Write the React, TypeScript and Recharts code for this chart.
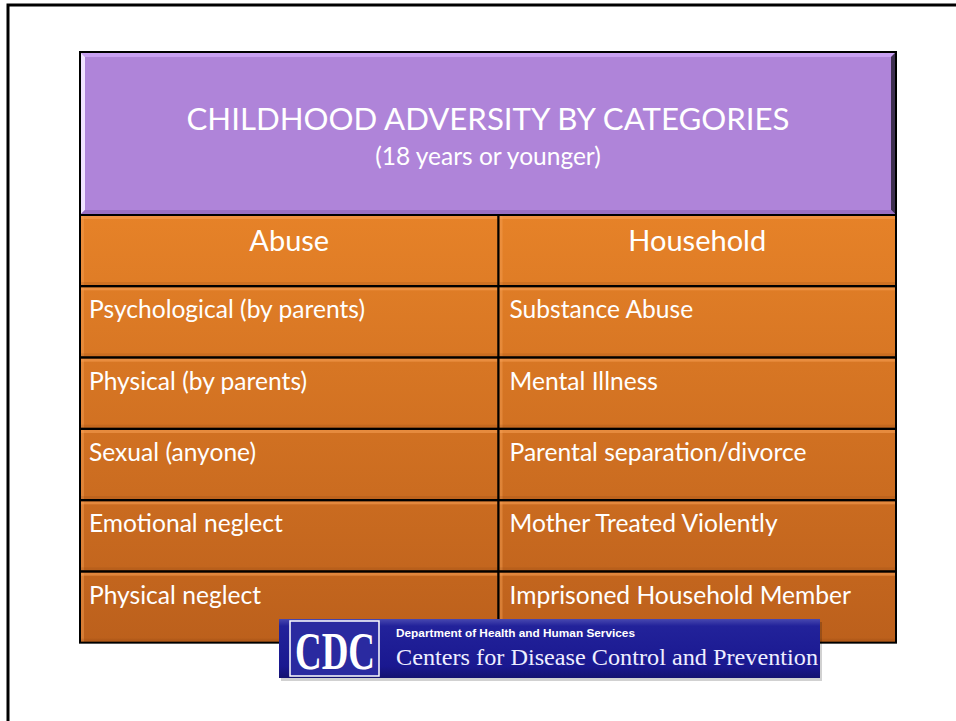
import React from "react";
import { BarChart, Bar, XAxis, YAxis } from "recharts";

const abuseItems = [
  "Abuse",
  "Psychological (by parents)",
  "Physical (by parents)",
  "Sexual (anyone)",
  "Emotional neglect",
  "Physical neglect",
];
const householdItems = [
  "Household",
  "Substance Abuse",
  "Mental Illness",
  "Parental separation/divorce",
  "Mother Treated Violently",
  "Imprisoned Household Member",
];
// share of the table width taken by each column
const columnWeights = [418, 397];
const titleText = "CHILDHOOD ADVERSITY BY CATEGORIES";
const subtitleText = "(18 years or younger)";
const logoSmall = "Department of Health and Human Services";
const logoLarge = "Centers for Disease Control and Prevention";

const data = abuseItems.map((a, i) => ({
  row: i,
  abuseLabel: a,
  householdLabel: householdItems[i],
  abuse: columnWeights[0],
  household: columnWeights[1],
}));

const FONT = "Lato, 'Open Sans', sans-serif";

function makeCell(labelKey: string, isLeft: boolean) {
  return (props: any) => {
    const { x, y, width, height, payload } = props;
    const isHeader = payload.row === 0;
    const label = payload[labelKey];
    return (
      <g>
        <rect x={x} y={y} width={width} height={height} fill="url(#orangeGrad)" />
        <rect x={x + 1} y={y + 1} width={width - 2} height={3} fill="#f7a055" opacity={0.55} />
        <rect x={x + 1} y={y + 1} width={3} height={height - 2} fill="#f7a055" opacity={0.45} />
        <rect x={x + 1} y={y + height - 4} width={width - 2} height={3} fill="#8a4410" opacity={0.18} />
        <rect x={x} y={y} width={width} height={height} fill="none" stroke="#000" strokeWidth={2} />
        <text
          x={isHeader ? x + width / 2 : x + (isLeft ? 9 : 11)}
          y={y + (isHeader ? 36 : 32)}
          textAnchor={isHeader ? "middle" : "start"}
          fill="#fff"
          fontFamily={FONT}
          fontSize={isHeader ? 29 : 24.6}
        >
          {label}
        </text>
      </g>
    );
  };
}

const AbuseCell = makeCell("abuseLabel", true);
const HouseholdCell = makeCell("householdLabel", false);

export default function App() {
  return (
    <div style={{ position: "absolute", left: 0, top: 0, width: 956, height: 721, overflow: "hidden", background: "#fff" }}>
      <svg width={0} height={0} style={{ position: "absolute" }}>
        <defs>
          <linearGradient id="orangeGrad" gradientUnits="userSpaceOnUse" x1="0" y1="215" x2="0" y2="643">
            <stop offset="0" stopColor="#e68228" />
            <stop offset="1" stopColor="#bc601c" />
          </linearGradient>
          <linearGradient id="logoGrad" x1="0" y1="0" x2="0" y2="1">
            <stop offset="0" stopColor="#4848b0" />
            <stop offset="0.12" stopColor="#22229a" />
            <stop offset="0.8" stopColor="#1a1890" />
            <stop offset="1" stopColor="#141270" />
          </linearGradient>
        </defs>
      </svg>
      <div style={{ position: "absolute", left: 0, top: 0 }}>
        <BarChart
          width={956}
          height={721}
          data={data}
          layout="vertical"
          margin={{ top: 215, right: 60, bottom: 78, left: 80 }}
          barCategoryGap={0}
        >
          <XAxis type="number" hide domain={[0, columnWeights[0] + columnWeights[1]]} />
          <YAxis type="category" dataKey="row" hide width={0} />
          <Bar dataKey="abuse" stackId="t" isAnimationActive={false} shape={AbuseCell} />
          <Bar dataKey="household" stackId="t" isAnimationActive={false} shape={HouseholdCell} />
        </BarChart>
      </div>
      <svg width={956} height={721} style={{ position: "absolute", left: 0, top: 0, pointerEvents: "none" }}>
        {/* slide frame */}
        <path d="M8,730 V5 H970" fill="none" stroke="#000" strokeWidth={3} />
        {/* title block */}
        <rect x={80} y={52} width={816} height={163} fill="#af84d9" />
        <polygon points="80,52 896,52 891,57 85,57" fill="#c9a0f2" />
        <polygon points="80,52 85,57 85,210 80,215" fill="#f1e2ff" />
        <polygon points="896,52 896,215 891,210 891,57" fill="#3e3050" />
        <polygon points="80,215 85,210 891,210 896,215" fill="#9a70c4" />
        <rect x={80} y={52} width={816} height={163} fill="none" stroke="#000" strokeWidth={2} />
        <text x={488} y={130} textAnchor="middle" fill="#fff" fontFamily={FONT} fontSize={31.2}>
          {titleText}
        </text>
        <text x={488} y={165} textAnchor="middle" fill="#fff" fontFamily={FONT} fontSize={24.5}>
          {subtitleText}
        </text>
        {/* CDC logo */}
        <rect x={281} y={622} width={541} height={59} fill="#000" opacity={0.18} />
        <rect x={279} y={619} width={541} height={59} fill="url(#logoGrad)" />
        <rect x={290} y={621} width={89} height={55} fill="#2a2aa0" stroke="#fff" strokeWidth={1.5} />
        <text
          x={295}
          y={669}
          fill="#fff"
          fontFamily="'Liberation Serif', 'DejaVu Serif', serif"
          fontWeight="bold"
          fontSize={52}
          textLength={80}
          lengthAdjust="spacingAndGlyphs"
        >
          CDC
        </text>
        <text
          x={396}
          y={637}
          fill="#fff"
          fontFamily="'Liberation Sans', sans-serif"
          fontWeight="bold"
          fontSize={10}
          textLength={239}
          lengthAdjust="spacingAndGlyphs"
        >
          {logoSmall}
        </text>
        <text
          x={396}
          y={665}
          fill="#eef"
          fontFamily="'Liberation Serif', serif"
          fontSize={24}
          textLength={422}
          lengthAdjust="spacingAndGlyphs"
        >
          {logoLarge}
        </text>
      </svg>
    </div>
  );
}
